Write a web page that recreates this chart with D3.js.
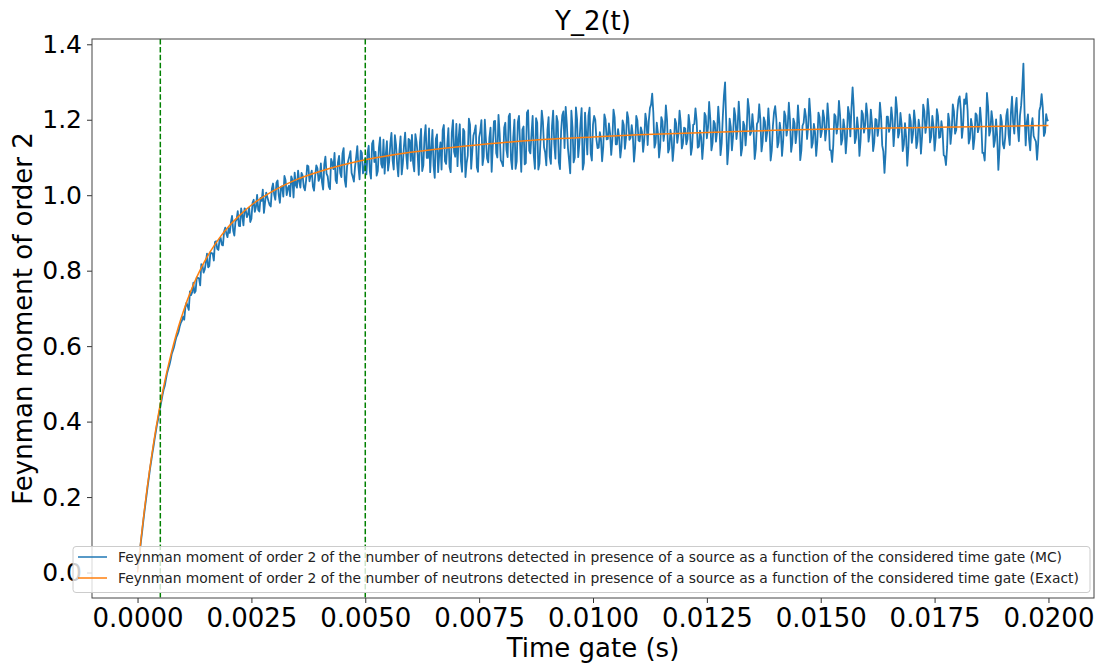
<!DOCTYPE html>
<html>
<head>
<meta charset="utf-8">
<script src="https://cdn.jsdelivr.net/npm/d3@7"></script>
<style>
  html, body { margin: 0; padding: 0; background: #fff; }
  svg { display: block; font-family: "DejaVu Sans", sans-serif; }
</style>
</head>
<body>
<svg id="chart" width="1104" height="666"></svg>
<script>
// ---- data ----
const chartTitle = "Y_2(t)";
const xLabel = "Time gate (s)";
const yLabel = "Feynman moment of order 2";
const legendLabels = [
  "Feynman moment of order 2 of the number of neutrons detected in presence of a source as a function of the considered time gate (MC)",
  "Feynman moment of order 2 of the number of neutrons detected in presence of a source as a function of the considered time gate (Exact)"
];
const xTicks = [0, 0.0025, 0.005, 0.0075, 0.01, 0.0125, 0.015, 0.0175, 0.02];
const yTicks = [0, 0.2, 0.4, 0.6, 0.8, 1.0, 1.2, 1.4];
const gateMarkers = [0.0005, 0.005];

// MC series, read on a grid of time gates: gridValues at t = i*mcStep,
// midValues at t = (i + 0.5)*mcStep
const mcStep = 0.00005;
const mcGridValues = [
  0.010, 0.055, 0.108, 0.160, 0.207, 0.253, 0.295, 0.334, 0.372, 0.405,
  0.440, 0.472, 0.496, 0.529, 0.550, 0.579, 0.597, 0.623, 0.638, 0.662,
  0.678, 0.703, 0.706, 0.745, 0.743, 0.741, 0.782, 0.779, 0.817, 0.795,
  0.822, 0.809, 0.849, 0.846, 0.876, 0.858, 0.881, 0.869, 0.904, 0.898,
  0.913, 0.928, 0.906, 0.930, 0.958, 0.918, 0.945, 0.965, 0.942, 0.967,
  0.938, 0.988, 0.969, 0.961, 0.993, 1.015, 0.981, 0.995, 0.974, 1.018,
  1.001, 1.033, 1.000, 1.022, 0.996, 1.040, 1.019, 0.997, 1.041, 1.060,
  1.020, 1.037, 1.059, 1.022, 1.038, 1.077, 1.053, 1.023, 1.051, 1.071,
  1.046, 1.034, 1.082, 1.057, 1.023, 1.096, 1.069, 1.040, 1.087, 1.059,
  1.111, 1.040, 1.076, 1.103, 1.059, 1.036, 1.100, 1.075, 1.118, 1.058,
  1.098, 1.111, 1.064, 1.137, 1.088, 1.052, 1.126, 1.083, 1.147, 1.108,
  1.065, 1.137, 1.092, 1.159, 1.082, 1.119, 1.055, 1.131, 1.106, 1.149,
  1.091, 1.086, 1.162, 1.108, 1.140, 1.064, 1.153, 1.099, 1.177, 1.123,
  1.078, 1.149, 1.061, 1.140, 1.173, 1.090, 1.133, 1.075, 1.166, 1.115,
  1.189, 1.152, 1.090, 1.176, 1.048, 1.105, 1.187, 1.116, 1.169, 1.074,
  1.154, 1.199, 1.102, 1.145, 1.087, 1.179, 1.130, 1.197, 1.100, 1.165,
  1.086, 1.179, 1.120, 1.209, 1.094, 1.154, 1.070, 1.194, 1.133, 1.174,
  1.082, 1.219, 1.118, 1.163, 1.105, 1.204, 1.068, 1.153, 1.195, 1.113,
  1.173, 1.102, 1.184, 1.136, 1.210, 1.087, 1.170, 1.222, 1.234, 1.125,
  1.058, 1.180, 1.100, 1.201, 1.136, 1.231, 1.085, 1.165, 1.210, 1.110,
  1.187, 1.200, 1.125, 1.167, 1.090, 1.214, 1.148, 1.190, 1.107, 1.227,
  1.135, 1.175, 1.100, 1.198, 1.123, 1.220, 1.147, 1.186, 1.089, 1.210,
  1.145, 1.180, 1.115, 1.216, 1.133, 1.231, 1.269, 1.126, 1.192, 1.100,
  1.207, 1.144, 1.238, 1.113, 1.173, 1.091, 1.202, 1.139, 1.224, 1.124,
  1.179, 1.135, 1.213, 1.107, 1.187, 1.230, 1.126, 1.171, 1.096, 1.218,
  1.151, 1.247, 1.119, 1.197, 1.142, 1.235, 1.106, 1.208, 1.299, 1.082,
  1.203, 1.119, 1.231, 1.149, 1.248, 1.105, 1.195, 1.132, 1.255, 1.160,
  1.215, 1.096, 1.189, 1.241, 1.116, 1.206, 1.143, 1.230, 1.092, 1.184,
  1.236, 1.127, 1.192, 1.104, 1.222, 1.158, 1.245, 1.115, 1.203, 1.138,
  1.238, 1.093, 1.184, 1.229, 1.149, 1.256, 1.126, 1.189, 1.104, 1.219,
  1.154, 1.225, 1.145, 1.243, 1.120, 1.088, 1.215, 1.163, 1.250, 1.134,
  1.201, 1.111, 1.234, 1.156, 1.286, 1.138, 1.206, 1.104, 1.224, 1.166,
  1.243, 1.142, 1.227, 1.117, 1.202, 1.157, 1.245, 1.132, 1.059, 1.208,
  1.168, 1.233, 1.130, 1.260, 1.153, 1.218, 1.117, 1.191, 1.078, 1.214,
  1.139, 1.225, 1.125, 1.200, 1.110, 1.240, 1.165, 1.255, 1.140, 1.210,
  1.118, 1.228, 1.152, 1.196, 1.106, 1.080, 1.216, 1.136, 1.241, 1.163,
  1.223, 1.262, 1.152, 1.254, 1.270, 1.137, 1.202, 1.122, 1.217, 1.167,
  1.232, 1.112, 1.092, 1.271, 1.158, 1.223, 1.128, 1.201, 1.067, 1.213,
  1.135, 1.153, 1.228, 1.133, 1.261, 1.163, 1.258, 1.143, 1.238, 1.349,
  1.132, 1.214, 1.119, 1.204, 1.149, 1.094, 1.224, 1.268, 1.157, 1.215,
  1.200
];
const mcMidValues = [
  0.028, 0.083, 0.135, 0.184, 0.231, 0.276, 0.316, 0.354, 0.391, 0.424,
  0.455, 0.486, 0.513, 0.540, 0.563, 0.588, 0.611, 0.630, 0.652, 0.668,
  0.670, 0.715, 0.696, 0.735, 0.768, 0.746, 0.781, 0.761, 0.815, 0.803,
  0.845, 0.812, 0.846, 0.827, 0.878, 0.855, 0.887, 0.867, 0.914, 0.889,
  0.900, 0.945, 0.893, 0.935, 0.919, 0.965, 0.920, 0.961, 0.950, 0.929,
  0.980, 0.956, 1.001, 0.957, 0.985, 0.953, 1.007, 0.984, 0.970, 1.031,
  0.988, 1.039, 0.980, 1.024, 1.051, 1.000, 1.025, 1.050, 0.994, 1.027,
  1.065, 1.020, 1.052, 1.013, 1.079, 1.037, 1.065, 1.012, 1.079, 1.038,
  1.084, 1.015, 1.102, 1.050, 1.016, 1.086, 1.112, 1.032, 1.104, 1.048,
  1.125, 1.022, 1.091, 1.117, 1.049, 1.075, 1.130, 1.042, 1.112, 1.067,
  1.055, 1.131, 1.044, 1.145, 1.115, 1.064, 1.153, 1.073, 1.057, 1.143,
  1.089, 1.165, 1.068, 1.134, 1.050, 1.156, 1.084, 1.166, 1.070, 1.146,
  1.160, 1.063, 1.142, 1.054, 1.176, 1.079, 1.186, 1.099, 1.061, 1.173,
  1.046, 1.161, 1.110, 1.068, 1.186, 1.083, 1.178, 1.061, 1.199, 1.102,
  1.077, 1.188, 1.062, 1.169, 1.085, 1.203, 1.070, 1.158, 1.185, 1.062,
  1.170, 1.080, 1.200, 1.097, 1.152, 1.062, 1.196, 1.112, 1.213, 1.093,
  1.077, 1.192, 1.101, 1.216, 1.069, 1.200, 1.090, 1.210, 1.062, 1.182,
  1.085, 1.225, 1.111, 1.210, 1.070, 1.192, 1.084, 1.224, 1.127, 1.079,
  1.207, 1.083, 1.224, 1.097, 1.195, 1.069, 1.212, 1.125, 1.190, 1.092,
  1.224, 1.087, 1.233, 1.101, 1.189, 1.068, 1.219, 1.108, 1.232, 1.092,
  1.210, 1.148, 1.126, 1.149, 1.127, 1.201, 1.149, 1.164, 1.147, 1.206,
  1.135, 1.153, 1.129, 1.186, 1.152, 1.204, 1.152, 1.158, 1.125, 1.198,
  1.143, 1.168, 1.146, 1.195, 1.197, 1.240, 1.218, 1.139, 1.166, 1.129,
  1.196, 1.171, 1.201, 1.123, 1.152, 1.127, 1.191, 1.162, 1.194, 1.137,
  1.177, 1.149, 1.185, 1.127, 1.189, 1.198, 1.129, 1.154, 1.137, 1.210,
  1.179, 1.203, 1.138, 1.190, 1.169, 1.191, 1.137, 1.264, 1.190, 1.123,
  1.181, 1.155, 1.210, 1.179, 1.197, 1.125, 1.184, 1.174, 1.228, 1.168,
  1.176, 1.123, 1.195, 1.199, 1.141, 1.195, 1.167, 1.181, 1.118, 1.220,
  1.202, 1.140, 1.168, 1.143, 1.210, 1.182, 1.200, 1.139, 1.191, 1.168,
  1.191, 1.119, 1.192, 1.209, 1.183, 1.211, 1.138, 1.167, 1.142, 1.207,
  1.170, 1.205, 1.174, 1.202, 1.119, 1.132, 1.209, 1.187, 1.212, 1.148,
  1.176, 1.153, 1.215, 1.231, 1.232, 1.152, 1.175, 1.144, 1.215, 1.185,
  1.213, 1.165, 1.192, 1.140, 1.200, 1.181, 1.209, 1.116, 1.114, 1.208,
  1.181, 1.202, 1.175, 1.227, 1.166, 1.188, 1.134, 1.155, 1.126, 1.197,
  1.162, 1.195, 1.143, 1.175, 1.155, 1.223, 1.190, 1.218, 1.155, 1.184,
  1.153, 1.210, 1.154, 1.171, 1.103, 1.128, 1.196, 1.169, 1.222, 1.173,
  1.253, 1.227, 1.183, 1.242, 1.224, 1.150, 1.182, 1.150, 1.212, 1.180,
  1.192, 1.112, 1.162, 1.235, 1.171, 1.196, 1.145, 1.154, 1.120, 1.194,
  1.124, 1.211, 1.161, 1.217, 1.192, 1.231, 1.181, 1.211, 1.284, 1.221,
  1.193, 1.147, 1.182, 1.157, 1.142, 1.139, 1.236, 1.233, 1.166, 1.198
];

// Exact series
const exactTimes = [0, 0.00005, 0.0001, 0.00015, 0.0002, 0.00025, 0.0003, 0.00035, 0.0004, 0.00045,
  0.0005, 0.0006, 0.0007, 0.0008, 0.0009, 0.001, 0.0012, 0.0014, 0.0016, 0.0018, 0.002, 0.0022,
  0.0025, 0.003, 0.0035, 0.004, 0.0045, 0.005, 0.006, 0.007, 0.008, 0.009, 0.01, 0.011, 0.012,
  0.013, 0.014, 0.015, 0.016, 0.017, 0.018, 0.019, 0.02];
const exactValues = [0, 0.059, 0.114, 0.165, 0.214, 0.259, 0.301, 0.341, 0.379, 0.414,
  0.447, 0.508, 0.561, 0.609, 0.652, 0.690, 0.755, 0.808, 0.851, 0.887, 0.917, 0.942,
  0.974, 1.013, 1.042, 1.063, 1.080, 1.094, 1.114, 1.128, 1.139, 1.148, 1.154, 1.160, 1.164,
  1.168, 1.172, 1.175, 1.177, 1.179, 1.181, 1.183, 1.185];

// ---- layout ----
const plot = { left: 92, right: 1094, top: 39, bottom: 598 };
const colors = { mc: "#1f77b4", exact: "#ff7f0e", gate: "#008000" };

const svg = d3.select("#chart");

const x = d3.scaleLinear().domain([-0.001, 0.021]).range([plot.left, plot.right]);
const y = d3.scaleLinear().domain([-0.0675, 1.414]).range([plot.bottom, plot.top]);

svg.append("defs").append("clipPath").attr("id", "clip")
  .append("rect")
  .attr("x", plot.left).attr("y", plot.top)
  .attr("width", plot.right - plot.left).attr("height", plot.bottom - plot.top);

const g = svg.append("g").attr("clip-path", "url(#clip)");

const mcData = [];
mcGridValues.forEach((v, i) => {
  mcData.push([i * mcStep, v]);
  if (i < mcMidValues.length) mcData.push([(i + 0.5) * mcStep, mcMidValues[i]]);
});
const exactData = exactTimes.map((t, i) => [t, exactValues[i]]);

g.append("path")
  .datum(mcData)
  .attr("fill", "none")
  .attr("stroke", colors.mc)
  .attr("stroke-width", 1.8)
  .attr("stroke-linejoin", "round")
  .attr("d", d3.line().x(d => x(d[0])).y(d => y(d[1])));

g.append("path")
  .datum(exactData)
  .attr("fill", "none")
  .attr("stroke", colors.exact)
  .attr("stroke-width", 1.5)
  .attr("d", d3.line().curve(d3.curveMonotoneX).x(d => x(d[0])).y(d => y(d[1])));

g.selectAll("line.gate")
  .data(gateMarkers)
  .enter().append("line")
  .attr("class", "gate")
  .attr("x1", d => x(d)).attr("x2", d => x(d))
  .attr("y1", plot.top).attr("y2", plot.bottom)
  .attr("stroke", colors.gate)
  .attr("stroke-width", 1.5)
  .attr("stroke-dasharray", "5.5,2.4");

// ---- axes ----
const xAxis = svg.append("g")
  .attr("transform", `translate(0,${plot.bottom})`)
  .call(d3.axisBottom(x).tickValues(xTicks).tickFormat(d3.format(".4f")).tickSize(5).tickPadding(6));
const yAxis = svg.append("g")
  .attr("transform", `translate(${plot.left},0)`)
  .call(d3.axisLeft(y).tickValues(yTicks).tickFormat(d3.format(".1f")).tickSize(5).tickPadding(5));

[xAxis, yAxis].forEach(a => {
  a.select(".domain").remove();
  a.selectAll(".tick line").attr("stroke", "#333").attr("stroke-width", 1);
  a.selectAll(".tick text")
    .attr("fill", "#000")
    .style("font-family", "DejaVu Sans, sans-serif");
});
xAxis.selectAll(".tick text").style("font-size", "26px");
yAxis.selectAll(".tick text").style("font-size", "25px");

// spines
svg.append("rect")
  .attr("x", plot.left).attr("y", plot.top)
  .attr("width", plot.right - plot.left).attr("height", plot.bottom - plot.top)
  .attr("fill", "none").attr("stroke", "#444").attr("stroke-width", 1);

// ---- labels ----
svg.append("text")
  .attr("x", (plot.left + plot.right) / 2).attr("y", 30)
  .attr("text-anchor", "middle")
  .style("font-size", "26px")
  .text(chartTitle);

svg.append("text")
  .attr("x", (plot.left + plot.right) / 2).attr("y", 657)
  .attr("text-anchor", "middle")
  .style("font-size", "26px")
  .text(xLabel);

svg.append("text")
  .attr("transform", `translate(32,${(plot.top + plot.bottom) / 2}) rotate(-90)`)
  .attr("text-anchor", "middle")
  .style("font-size", "26px")
  .text(yLabel);

// ---- legend ----
const legend = svg.append("g");
legend.append("rect")
  .attr("x", 73).attr("y", 546.5)
  .attr("width", 1017).attr("height", 46)
  .attr("rx", 3).attr("ry", 3)
  .attr("fill", "#fff").attr("fill-opacity", 0.8)
  .attr("stroke", "#cccccc").attr("stroke-width", 1);

const legendColors = [colors.mc, colors.exact];
legendLabels.forEach((lab, i) => {
  const cy = 557 + i * 21;
  legend.append("line")
    .attr("x1", 78).attr("x2", 107).attr("y1", cy).attr("y2", cy)
    .attr("stroke", legendColors[i]).attr("stroke-width", 1.5);
  legend.append("text")
    .attr("x", 118).attr("y", cy + 4.8)
    .style("font-size", "13.85px")
    .attr("fill", "#222")
    .text(lab);
});
</script>
</body>
</html>
